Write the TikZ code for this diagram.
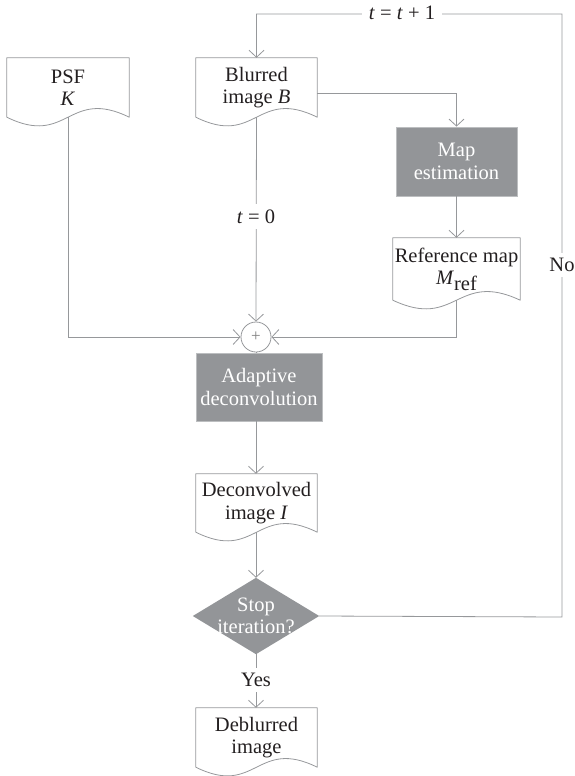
\documentclass[tikz,border=0pt]{standalone}
\usepackage{fontspec}
\setmainfont{Liberation Serif}
\usetikzlibrary{arrows.meta,backgrounds}
\definecolor{linegray}{RGB}{150,152,155}
\definecolor{boxgray}{RGB}{147,149,152}
\definecolor{boxedge}{RGB}{188,190,192}
\definecolor{txt}{RGB}{35,31,32}
\newcommand\docout[1]{\draw[docline] (#1.south west) -- (#1.north west) -- (#1.north east) -- (#1.south east)
  .. controls ([yshift=30pt]#1.south) and ([yshift=-30pt]#1.south) .. cycle;}
\begin{document}
\begin{tikzpicture}[x=1pt,y=-1pt,
  every node/.style={font=\fontsize{20.5}{22.5}\selectfont, text=txt, align=center},
  doc/.style={rectangle, inner sep=0pt},
  proc/.style={rectangle, fill=boxgray, draw=boxedge, line width=0.8pt, text=white, inner sep=0pt},
  conn/.style={draw=linegray, line width=0.8pt},
  arr/.style={conn, -{Straight Barb[length=7pt,width=15pt]}},
  lbl/.style={fill=white, inner sep=6pt},
  docline/.style={draw=linegray, line width=0.8pt, line join=round}]
\useasboundingbox (0,0) rectangle (574,776);

% nodes
\node[doc, minimum width=122pt, minimum height=59pt] (psf) at (68,87.5) {PSF\\\textit{K}};
\node[doc, minimum width=121pt, minimum height=59pt] (blur) at (256.5,87.5) {Blurred\\image \textit{B}};
\node[proc, minimum width=121pt, minimum height=69pt] (map) at (456.5,161.5) {Map\\estimation};
\node[doc, minimum width=127pt, minimum height=62pt] (ref) at (456.5,269) {Reference map\\\textit{M}\raisebox{-0.28em}{ref}};
\node[circle, draw=linegray, line width=0.8pt, minimum size=30pt, inner sep=0pt, text=gray, font=\fontsize{17}{17}\selectfont] (plus) at (256,337) {+};
\node[proc, minimum width=126pt, minimum height=68pt] (adapt) at (259,387) {Adaptive\\deconvolution};
\node[doc, minimum width=121pt, minimum height=58pt] (decon) at (256.5,503) {Deconvolved\\image \textit{I}};
\node[rectangle, minimum width=126pt, minimum height=76pt, inner sep=0pt, text=white] (stop) at (256,616) {Stop\\iteration?};
\node[doc, minimum width=121pt, minimum height=59pt] (deblur) at (256.5,737.5) {Deblurred\\image};

\begin{scope}[on background layer]
\fill[boxgray] (stop.north) -- (stop.east) -- (stop.south) -- (stop.west) -- cycle;
\end{scope}

\docout{psf}
\docout{blur}
\docout{ref}
\docout{decon}
\docout{deblur}

\coordinate (cr) at (562,617);
\coordinate (ct) at (562,14);

% connectors
\draw[arr] (stop.east) -- (cr) -- (ct) -| (blur.north);
\draw[arr] ([yshift=-5.5pt]blur.east) -| (map.north);
\draw[arr] (map.south) -- (ref.north);
\draw[arr] (psf.south) |- (plus.west);
\draw[arr] (blur.south) -- (plus.north);
\draw[arr] (ref.south) |- (plus.east);
\draw[conn] (plus.south) -- (plus.south |- adapt.north);
\draw[arr] (adapt.south -| plus.south) -- (decon.north -| plus.south);
\draw[arr] (decon.south -| stop.north) -- (stop.north);
\draw[arr] (stop.south) -- (deblur.north -| stop.south);

% labels
\node[lbl, inner xsep=7pt] (lt1) at (402,13) {\textit{t} = \textit{t} + 1};
\node[lbl] (lt0) at (256,216.5) {\textit{t} = 0};
\node[lbl, inner sep=5pt] (lno) at (562,265) {No};
\node[lbl, inner sep=5pt] (lyes) at (256,680) {Yes};
\end{tikzpicture}
\end{document}
